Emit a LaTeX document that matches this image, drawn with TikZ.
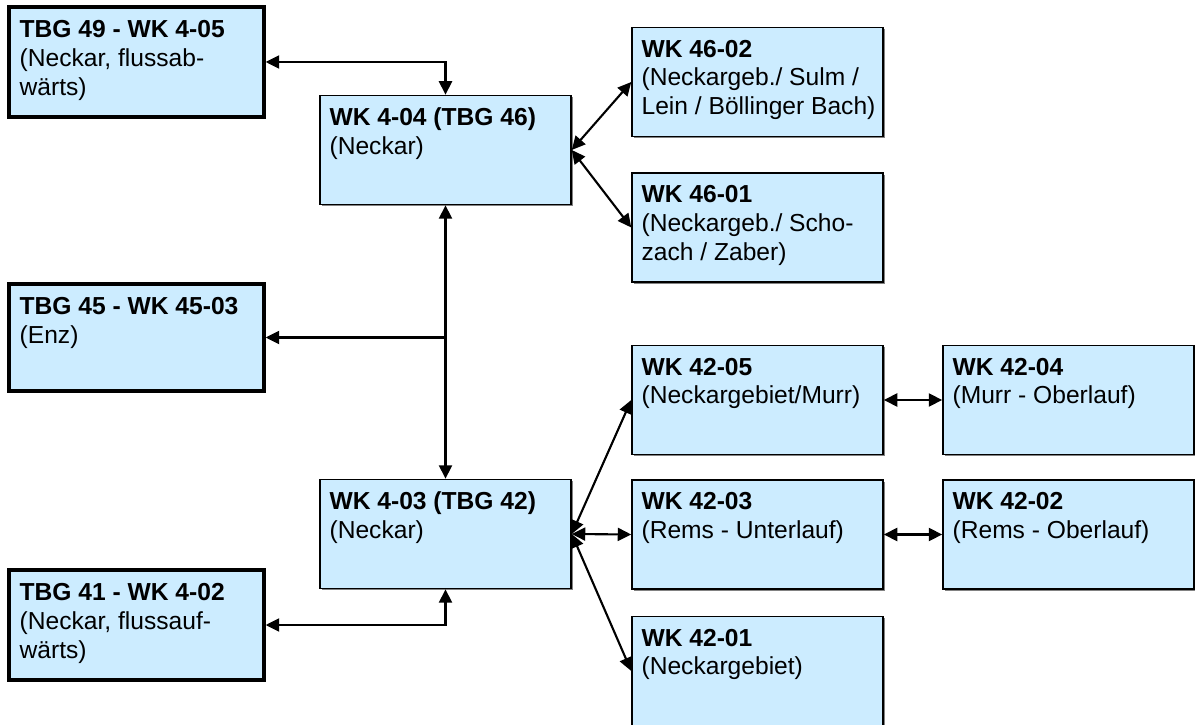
\documentclass[tikz,border=0pt]{standalone}
\usepackage{fontspec}
\setmainfont{Liberation Sans}
\usepackage{xcolor}
\usetikzlibrary{arrows.meta, positioning, shadows}
\definecolor{wk-blue}{RGB}{204,236,255}
\definecolor{wk-shadow}{RGB}{130,130,130}

\begin{document}
\begin{tikzpicture}[
  box/.style={draw, fill=wk-blue, line width=0.85pt, minimum width=5.02cm, minimum height=2.18cm, inner sep=0pt,
    drop shadow={shadow xshift=0.035cm, shadow yshift=-0.035cm, fill=wk-shadow, opacity=1}},
  tbg/.style={box, line width=1.9pt, minimum width=5.1cm, minimum height=2.2cm},
  txt/.style={inner sep=0pt, align=left, font=\fontsize{14}{16.3}\selectfont},
  link/.style={line width=1.2pt, {Triangle[length=0.27cm, width=0.26cm]}-{Triangle[length=0.27cm, width=0.26cm]}},
  onelink/.style={line width=1.2pt, -{Triangle[length=0.27cm, width=0.26cm]}},
]
  \useasboundingbox (0,0) rectangle (23.9,-14.5);

  % Left column (TBG)
  \node[tbg] (b49) at (2.73,-1.24) {};
  \node[txt, below right=0.3 and 0.24 of b49.north west] (t49) {\textbf{TBG 49 - WK 4-05}\\(Neckar, flussab-\\wärts)};
  \node[tbg, minimum height=2.14cm] (b45) at (2.73,-6.75) {};
  \node[txt, below right=0.3 and 0.24 of b45.north west] (t45) {\textbf{TBG 45 - WK 45-03}\\(Enz)};
  \node[tbg] (b41) at (2.73,-12.5) {};
  \node[txt, below right=0.3 and 0.24 of b41.north west] (t41) {\textbf{TBG 41 - WK 4-02}\\(Neckar, flussauf-\\wärts)};

  % Neckar main line
  \node[box] (w404) at (8.91,-3.0) {};
  \node[txt, below right=0.26 and 0.2 of w404.north west] (t404) {\textbf{WK 4-04 (TBG 46)}\\(Neckar)};
  \node[box] (w403) at (8.91,-10.68) {};
  \node[txt, below right=0.26 and 0.2 of w403.north west] (t403) {\textbf{WK 4-03 (TBG 42)}\\(Neckar)};

  % TBG 46
  \node[box] (w4602) at (15.15,-1.64) {};
  \node[txt, below right=0.26 and 0.2 of w4602.north west] (t4602) {\textbf{WK 46-02}\\(Neckargeb./ Sulm /\\Lein / Böllinger Bach)};
  \node[box] (w4601) at (15.15,-4.55) {};
  \node[txt, below right=0.26 and 0.2 of w4601.north west] (t4601) {\textbf{WK 46-01}\\(Neckargeb./ Scho-\\zach / Zaber)};

  % TBG 42
  \node[box] (w4205) at (15.15,-8.0) {};
  \node[txt, below right=0.26 and 0.2 of w4205.north west] (t4205) {\textbf{WK 42-05}\\(Neckargebiet/Murr)};
  \node[box] (w4204) at (21.37,-8.0) {};
  \node[txt, below right=0.26 and 0.2 of w4204.north west] (t4204) {\textbf{WK 42-04}\\(Murr - Oberlauf)};
  \node[box] (w4203) at (15.15,-10.69) {};
  \node[txt, below right=0.26 and 0.2 of w4203.north west] (t4203) {\textbf{WK 42-03}\\(Rems - Unterlauf)};
  \node[box] (w4202) at (21.37,-10.69) {};
  \node[txt, below right=0.26 and 0.2 of w4202.north west] (t4202) {\textbf{WK 42-02}\\(Rems - Oberlauf)};
  \node[box] (w4201) at (15.15,-13.42) {};
  \node[txt, below right=0.26 and 0.2 of w4201.north west] (t4201) {\textbf{WK 42-01}\\(Neckargebiet)};

  % Connectors
  \coordinate (j45) at (w404.south |- b45.east);
  \draw[link] (b49.east) -| (w404.north);
  \draw[link] (w404.south) -- (w403.north);
  \draw[onelink] (j45) -- (b45.east);
  \draw[link] (b41.east) -| (w403.south);
  \draw[link] (w404.east) -- (w4602.west);
  \draw[link] (w404.east) -- (w4601.west);
  \draw[link] (w403.east) -- (w4205.west);
  \draw[link] (w403.east) -- (w4203.west);
  \draw[link] (w403.east) -- (w4201.west);
  \draw[link] (w4205.east) -- (w4204.west);
  \draw[link] (w4203.east) -- (w4202.west);
\end{tikzpicture}
\end{document}
